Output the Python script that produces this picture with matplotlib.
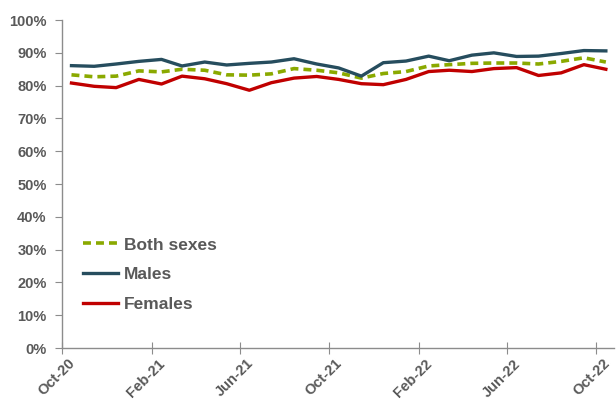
import matplotlib
matplotlib.use("Agg")
import matplotlib.pyplot as plt
import matplotlib.dates as mdates
import matplotlib.transforms as mtransforms
import pandas as pd

# monthly series, Oct-20 .. Oct-22 (plotted mid-month)
months = pd.date_range("2020-10-01", periods=25, freq="MS") + pd.Timedelta(days=13)
both = [83.3, 82.7, 82.9, 84.5, 84.2, 85.0, 84.7, 83.3, 83.2, 83.6, 85.2, 84.7, 83.9,
        82.3, 83.7, 84.3, 86.0, 86.4, 86.8, 86.9, 86.9, 86.6, 87.4, 88.5, 87.2]
males = [86.1, 85.9, 86.6, 87.4, 88.0, 86.0, 87.2, 86.3, 86.8, 87.2, 88.2, 86.6, 85.4,
         82.9, 87.0, 87.5, 89.0, 87.6, 89.3, 90.0, 88.9, 89.0, 89.8, 90.7, 90.6]
females = [80.8, 79.8, 79.4, 81.9, 80.5, 82.9, 82.1, 80.6, 78.6, 80.9, 82.3, 82.8, 81.9,
           80.6, 80.3, 81.9, 84.3, 84.7, 84.3, 85.2, 85.5, 83.1, 83.9, 86.4, 85.0]
tick_dates = pd.date_range("2020-10-01", "2022-10-01", freq="4MS")

grey = "#595959"
plt.rcParams["font.family"] = ["Liberation Sans", "DejaVu Sans"]

fig = plt.figure(figsize=(6.16, 4.01), dpi=100)
ax = fig.add_axes([0.1006, 0.132, 0.896, 0.818])

ax.plot(months, both, color="#8aa900", lw=2.6, ls=(0, (2.2, 1.4)), label="Both sexes", clip_on=False)
ax.plot(months, males, color="#264d5e", lw=2.4, label="Males", clip_on=False)
ax.plot(months, females, color="#c00000", lw=2.4, label="Females", clip_on=False)

ax.set_ylim(0, 100)
ax.set_yticks(range(0, 101, 10))
ax.set_yticklabels([f"{v}%" for v in range(0, 101, 10)])
ax.set_xlim(pd.Timestamp("2020-10-01"), pd.Timestamp("2022-10-25"))
ax.set_xticks(tick_dates)
ax.xaxis.set_major_formatter(mdates.DateFormatter("%b-%y"))

for s in ["top", "right"]:
    ax.spines[s].set_visible(False)
for s in ["left", "bottom"]:
    ax.spines[s].set_color("#8c8c8c")
    ax.spines[s].set_linewidth(1.0)
ax.tick_params(axis="y", colors="#8c8c8c", labelcolor=grey, length=5, labelsize=10.5, pad=6)
ax.tick_params(axis="x", colors="#8c8c8c", labelcolor=grey, direction="inout", length=8,
               labelsize=10.5, pad=2)
for lab in ax.get_yticklabels():
    lab.set_fontweight("bold")
shift = mtransforms.ScaledTranslation(6 / 100, 0, fig.dpi_scale_trans)
for lab in ax.get_xticklabels():
    lab.set_fontweight("bold")
    lab.set_rotation(45)
    lab.set_ha("right")
    lab.set_rotation_mode("anchor")
    lab.set_transform(lab.get_transform() + shift)

leg = ax.legend(loc="upper left", bbox_to_anchor=(0.01, 0.385), frameon=False,
                handlelength=2.0, handletextpad=0.35, labelspacing=0.85,
                prop={"weight": "bold", "size": 12.5})
for t in leg.get_texts():
    t.set_color(grey)

fig.savefig("out.png", dpi=100)
